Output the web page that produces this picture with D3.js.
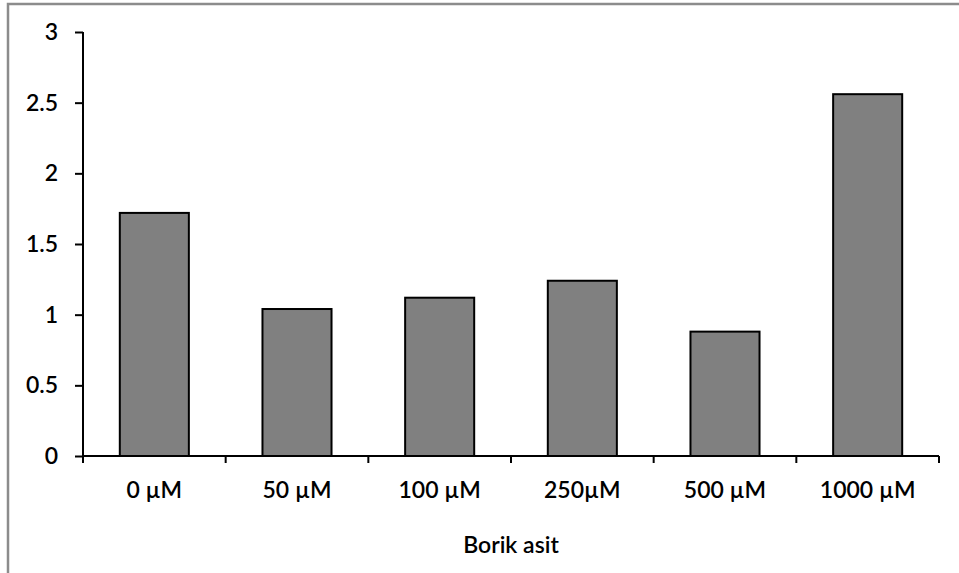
<!DOCTYPE html>
<html>
<head>
<meta charset="utf-8">
<script src="https://cdn.jsdelivr.net/npm/d3@7/dist/d3.min.js"></script>
<style>
  html, body { margin: 0; padding: 0; background: #fff; }
  svg { display: block; }
  text { font-family: Lato, "Open Sans", sans-serif; fill: #000; }
</style>
</head>
<body>
<svg id="chart" width="959" height="573"></svg>
<script>
// Borik asit concentrations and measured values
const categories = ["0 µM", "50 µM", "100 µM", "250µM", "500 µM", "1000 µM"];
const values = [1.72, 1.04, 1.12, 1.24, 0.88, 2.56];
const yTicks = [0, 0.5, 1, 1.5, 2, 2.5, 3];
const xTitle = "Borik asit";

(function () {
  const svg = d3.select("#chart");
  const W = 959, H = 573;
  const plotL = 83, plotR = 939, plotT = 32, plotB = 456;
  const fontSize = "23px";

  // outer frame (left and top edges visible)
  svg.append("path")
    .attr("d", `M8,${H} L8,4 L${W},4`)
    .attr("fill", "none")
    .attr("stroke", "#8c8c8c")
    .attr("stroke-width", 2.5);

  const x = d3.scaleBand().domain(categories).range([plotL, plotR])
    .paddingInner(0.516).paddingOuter(0.258);
  const y = d3.scaleLinear().domain([0, 3]).range([plotB, plotT]);

  // bars
  svg.append("g").selectAll("rect").data(values).join("rect")
    .attr("x", (d, i) => x(categories[i]))
    .attr("y", d => y(d))
    .attr("width", x.bandwidth())
    .attr("height", d => y(0) - y(d))
    .attr("fill", "#808080")
    .attr("stroke", "#000")
    .attr("stroke-width", 2);

  // y axis
  const yAxis = svg.append("g").attr("transform", `translate(${plotL},0)`)
    .call(d3.axisLeft(y).tickValues(yTicks).tickSize(8).tickPadding(17)
      .tickFormat(d => String(d)));
  yAxis.select(".domain").attr("stroke", "#000").attr("stroke-width", 2)
    .attr("d", `M0,${plotT}V${plotB}`);
  yAxis.selectAll(".tick line").attr("stroke", "#000").attr("stroke-width", 2);
  yAxis.selectAll(".tick text").style("font-size", fontSize).style("font-weight", "600");

  // x axis with boundary ticks between categories
  const xAxis = svg.append("g").attr("transform", `translate(0,${plotB})`);
  xAxis.append("line").attr("x1", plotL).attr("x2", plotR)
    .attr("stroke", "#000").attr("stroke-width", 2);
  const bounds = d3.range(categories.length + 1)
    .map(i => plotL + i * (plotR - plotL) / categories.length);
  xAxis.selectAll("line.tk").data(bounds).join("line").attr("class", "tk")
    .attr("x1", d => d).attr("x2", d => d).attr("y1", 0).attr("y2", 7)
    .attr("stroke", "#000").attr("stroke-width", 2);
  xAxis.selectAll("text").data(categories).join("text")
    .attr("x", d => x(d) + x.bandwidth() / 2)
    .attr("y", 42)
    .attr("text-anchor", "middle")
    .style("font-size", fontSize)
    .style("font-weight", "600")
    .text(d => d);

  // x axis title
  svg.append("text")
    .attr("x", (plotL + plotR) / 2)
    .attr("y", 553)
    .attr("text-anchor", "middle")
    .style("font-size", fontSize)
    .style("font-weight", "600")
    .text(xTitle);
})();
</script>
</body>
</html>
